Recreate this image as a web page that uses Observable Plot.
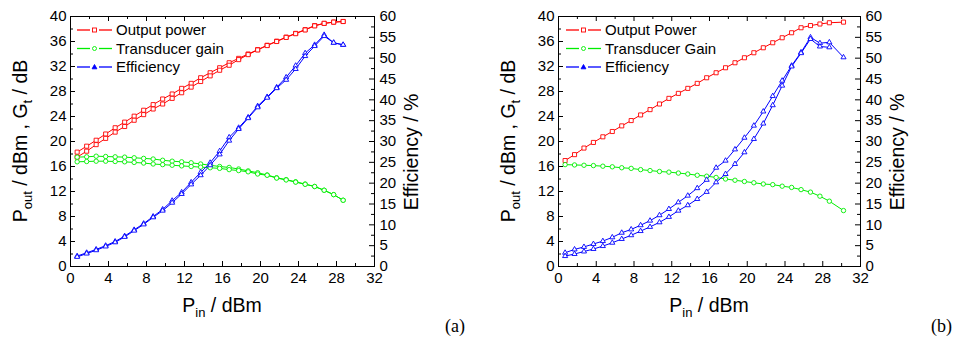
<!DOCTYPE html>
<html><head><meta charset="utf-8">
<script src="https://cdn.jsdelivr.net/npm/d3@7"></script>
<script src="https://cdn.jsdelivr.net/npm/@observablehq/plot@0.6"></script>
<style>
html,body{margin:0;padding:0;background:#fff;}
#wrap{position:relative;width:957px;height:338px;overflow:hidden;background:#fff;}
#wrap svg{position:absolute;top:0;}
</style></head><body><div id="wrap"></div>
<script>
// ---------- data ----------
const pinA = [0.7,1.7,2.7,3.7,4.7,5.7,6.7,7.7,8.7,9.7,10.7,11.7,12.7,13.7,14.7,15.7,16.7,17.7,18.7,19.7,20.7,21.7,22.7,23.7,24.7,25.7,26.7,27.7,28.7];
const poutA1 = [18.3,19.25,20.2,21.2,22.2,23.1,24.05,25.0,25.9,26.8,27.6,28.5,29.3,30.2,31.0,31.8,32.6,33.3,34.0,34.7,35.4,36.05,36.7,37.3,37.9,38.55,38.9,39.1,39.2];
const poutA2 = [17.5,18.45,19.5,20.5,21.5,22.4,23.4,24.3,25.2,26.0,26.9,27.8,28.7,29.6,30.5,31.4,32.2,33.1,33.9,34.65,35.35,36.0,36.65,37.25,37.85,38.5,38.9,39.1,39.2];
const gainA1 = [17.5,17.55,17.65,17.6,17.55,17.5,17.4,17.3,17.2,17.0,16.85,16.75,16.6,16.4,16.2,16.0,15.85,15.6,15.3,15.0,14.65,14.2,13.9,13.55,13.2,12.8,12.2,11.5,10.6];
const gainA2 = [16.75,16.8,16.85,16.85,16.8,16.75,16.65,16.55,16.4,16.3,16.2,16.1,16.0,15.9,15.8,15.7,15.5,15.35,15.15,14.8,14.6,14.15,13.85,13.5,13.15,12.8,12.2,11.5,10.6];
const effA1 = [2.5,3.3,4.1,5.0,6.0,7.3,8.8,10.3,12.0,13.7,15.8,17.8,20.2,22.6,24.9,27.7,31.0,33.3,35.8,38.5,40.7,43.0,45.4,48.2,51.2,53.2,55.6,53.7,53.2];
const effA2 = [2.3,3.1,3.9,4.8,5.8,7.1,8.6,10.1,11.8,13.4,15.3,17.4,19.7,21.9,24.3,26.9,30.2,33.0,35.6,38.2,40.5,42.8,44.8,47.4,50.5,52.9,55.3,53.7,53.2];

const pinB = [0.7,1.7,2.7,3.7,4.7,5.7,6.7,7.7,8.7,9.7,10.7,11.7,12.7,13.7,14.7,15.7,16.7,17.7,18.7,19.7,20.7,21.7,22.7,23.7,24.7,25.7,26.7,27.7,28.7,30.2];
const poutB = [16.95,17.9,18.95,19.85,20.75,21.6,22.5,23.35,24.25,25.1,26.0,26.9,27.7,28.5,29.3,30.2,31.0,31.8,32.6,33.4,34.2,35.0,35.8,36.6,37.4,38.2,38.55,38.8,39.0,39.1];
const gainB = [16.3,16.25,16.2,16.15,16.05,15.95,15.8,15.7,15.5,15.35,15.2,15.1,14.95,14.8,14.6,14.45,14.25,14.0,13.8,13.6,13.4,13.2,13.1,12.85,12.65,12.3,11.9,11.25,10.45,8.95];
const effB1 = [3.3,4.1,4.7,5.4,6.1,7.0,8.1,8.9,9.9,11.0,12.3,13.8,15.4,17.0,18.8,20.8,23.7,25.4,28.1,30.9,33.8,37.2,40.9,44.6,48.2,51.4,55.0,53.6,53.8,50.2];
const effB2 = [2.5,3.0,3.6,4.2,4.9,5.7,6.6,7.5,8.5,9.5,10.6,11.9,13.4,14.7,16.2,17.9,20.2,22.2,24.6,27.4,30.6,34.3,38.7,43.4,48.0,51.2,54.6,52.8,52.6];

const xTicks = [0,4,8,12,16,20,24,28,32];
const leftTicks = [0,4,8,12,16,20,24,28,32,36,40];
const rightTicks = [0,5,10,15,20,25,30,35,40,45,50,55,60];
const legendA = ["Output power","Transducer gain","Efficiency"];
const legendB = ["Output Power","Transducer Gain","Efficiency"];

// ---------- drawing ----------
const RED = "#ff0000", GREEN = "#00ee00", BLUE = "#0000ff";
const FONT = "'Liberation Sans', Arial, Helvetica, sans-serif";
const K = 40 / 60; // efficiency axis (0..60) mapped onto left axis (0..40)
const xMinor = xTicks.slice(0, -1).map(v => v + 2);
const leftMinor = leftTicks.slice(0, -1).map(v => v + 2);
const rightMinor = rightTicks.slice(0, -1).map(v => v + 2.5);

function rows(pin, vals) { return vals.map((v, i) => ({x: pin[i], v})); }

function panel({left, width, ml, mr, series, legendX, labels, tag, tagX}) {
  const H = 338, mt = 16, mb = 72;
  const pw = width - ml - mr, ph = H - mt - mb;
  const marks = [];
  for (const s of series) {
    marks.push(Plot.line(rows(s.pin, s.vals), {x: "x", y: s.eff ? d => d.v * K : "v", stroke: s.color, strokeWidth: 1}));
  }
  for (const s of series) {
    marks.push(Plot.dot(rows(s.pin, s.vals), {x: "x", y: s.eff ? d => d.v * K : "v", stroke: s.color, fill: "white", strokeWidth: 0.9, symbol: s.symbol, r: s.r}));
  }
  marks.push(
    Plot.tickY(leftTicks, {y: d => d, insetRight: pw - 5, stroke: "black"}),
    Plot.tickY(leftMinor, {y: d => d, insetRight: pw - 3, stroke: "black"}),
    Plot.tickY(rightTicks, {y: d => d * K, insetLeft: pw - 5, stroke: "black"}),
    Plot.tickY(rightMinor, {y: d => d * K, insetLeft: pw - 3, stroke: "black"}),
    Plot.tickX(xTicks, {x: d => d, insetTop: ph - 5, stroke: "black"}),
    Plot.tickX(xMinor, {x: d => d, insetTop: ph - 3, stroke: "black"}),
    Plot.tickX(xTicks, {x: d => d, insetBottom: ph - 5, stroke: "black"}),
    Plot.tickX(xMinor, {x: d => d, insetBottom: ph - 3, stroke: "black"}),
    Plot.axisX(xTicks, {anchor: "bottom", tickSize: 0, tickPadding: 6, label: null, fontSize: 15}),
    Plot.axisY(leftTicks, {anchor: "left", tickSize: 0, tickPadding: 4, label: null, fontSize: 15}),
    Plot.axisY(rightTicks.map(v => v * K), {anchor: "right", tickSize: 0, tickPadding: 5, label: null, fontSize: 15, tickFormat: d => String(Math.round(d / K))}),
    Plot.frame({stroke: "black", strokeWidth: 1})
  );
  const svg = Plot.plot({
    width, height: H, marginLeft: ml, marginRight: mr, marginTop: mt, marginBottom: mb,
    x: {domain: [0, 32]}, y: {domain: [0, 40]},
    style: {fontFamily: FONT, fontSize: "15px", color: "black", background: "white", overflow: "visible"},
    marks
  });
  svg.style.left = left + "px";
  const g = d3.select(svg).append("g").attr("font-family", FONT).attr("fill", "black").attr("text-anchor", "start");
  const cx = ml + pw / 2;
  // left title
  const lt = g.append("text").attr("transform", `translate(${ml - 43},141) rotate(-90)`)
    .attr("text-anchor", "middle").attr("font-size", 19.5);
  lt.append("tspan").text("P");
  lt.append("tspan").attr("font-size", 13).attr("dy", 5).text("out");
  lt.append("tspan").attr("dy", -5).text(" / dBm , G");
  lt.append("tspan").attr("font-size", 13).attr("dy", 5).text("t");
  lt.append("tspan").attr("dy", -5).text(" / dB");
  // right title
  g.append("text").attr("transform", `translate(${ml + pw + 44},152) rotate(-90)`)
    .attr("text-anchor", "middle").attr("font-size", 19.5).text("Efficiency / %");
  // bottom title
  const bt = g.append("text").attr("x", cx).attr("y", 312).attr("text-anchor", "middle").attr("font-size", 19.5);
  bt.append("tspan").text("P");
  bt.append("tspan").attr("font-size", 13).attr("dy", 5).text("in");
  bt.append("tspan").attr("dy", -5).text(" / dBm");
  // panel tag
  g.append("text").attr("x", tagX).attr("y", 332).attr("text-anchor", "start")
    .attr("font-family", "'Liberation Serif', 'Times New Roman', serif")
    .attr("font-size", 18).text(tag);
  // legend
  const colors = [RED, GREEN, BLUE];
  const ys = [30, 48.5, 67];
  labels.forEach((lab, i) => {
    const y = ys[i], c = colors[i], mx = legendX + 17.5;
    g.append("line").attr("x1", legendX).attr("x2", legendX + 13).attr("y1", y).attr("y2", y).attr("stroke", c).attr("stroke-width", 1.3);
    g.append("line").attr("x1", legendX + 22).attr("x2", legendX + 35).attr("y1", y).attr("y2", y).attr("stroke", c).attr("stroke-width", 1.3);
    if (i === 0) g.append("rect").attr("x", mx - 2).attr("y", y - 2).attr("width", 4).attr("height", 4).attr("fill", "white").attr("stroke", c).attr("stroke-width", 0.9);
    if (i === 1) g.append("circle").attr("cx", mx).attr("cy", y).attr("r", 2).attr("fill", "white").attr("stroke", c).attr("stroke-width", 0.9);
    if (i === 2) g.append("path").attr("d", `M${mx},${y - 2.5}L${mx + 2.4},${y + 1.8}L${mx - 2.4},${y + 1.8}Z`).attr("fill", c).attr("stroke", c).attr("stroke-width", 0.9);
    g.append("text").attr("x", legendX + 39).attr("y", y).attr("dy", "0.35em").attr("text-anchor", "start").attr("font-size", 15).text(lab);
  });
  document.getElementById("wrap").appendChild(svg);
}

const sq = {symbol: "square", r: 2.3}, ci = {symbol: "circle", r: 2.2}, tr = {symbol: "triangle", r: 1.9};
panel({
  left: 0, width: 478, ml: 70, mr: 104, legendX: 77, labels: legendA, tag: "(a)", tagX: 445,
  series: [
    {pin: pinA, vals: poutA1, color: RED, ...sq}, {pin: pinA, vals: poutA2, color: RED, ...sq},
    {pin: pinA, vals: gainA1, color: GREEN, ...ci}, {pin: pinA, vals: gainA2, color: GREEN, ...ci},
    {pin: pinA, vals: effA1, color: BLUE, eff: true, ...tr}, {pin: pinA, vals: effA2, color: BLUE, eff: true, ...tr}
  ]
});
panel({
  left: 478, width: 479, ml: 80, mr: 97, legendX: 88, labels: legendB, tag: "(b)", tagX: 453,
  series: [
    {pin: pinB, vals: poutB, color: RED, ...sq},
    {pin: pinB, vals: gainB, color: GREEN, ...ci},
    {pin: pinB, vals: effB1, color: BLUE, eff: true, ...tr}, {pin: pinB, vals: effB2, color: BLUE, eff: true, ...tr}
  ]
});
</script>
</body></html>
